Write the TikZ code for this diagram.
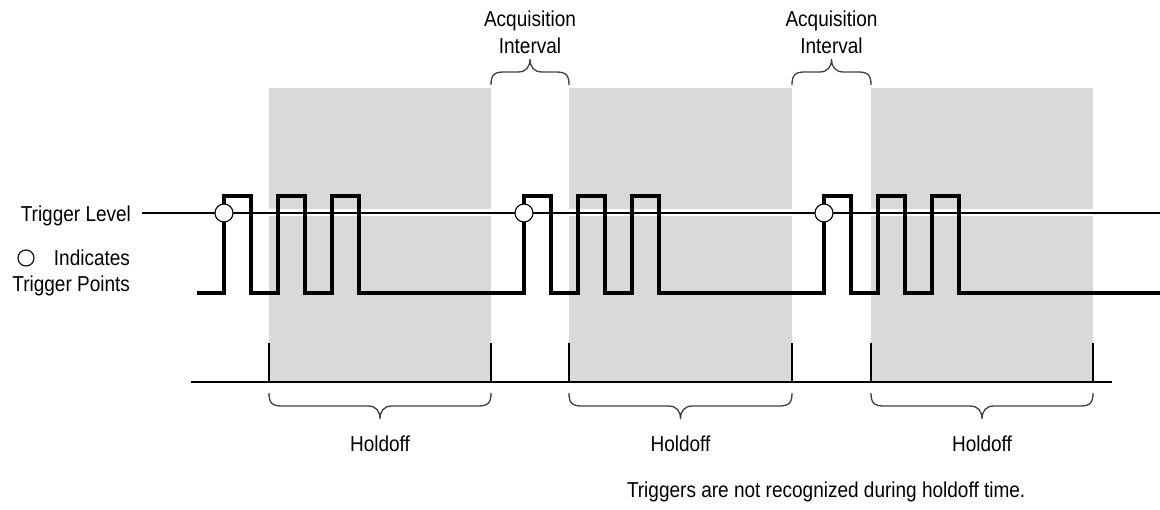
\documentclass[tikz,border=0pt]{standalone}
\usepackage{fontspec}
\setmainfont{Liberation Sans}[FakeStretch=0.88]
\definecolor{shadegray}{RGB}{217,217,217}
\tikzset{
  lbl/.style={font=\fontsize{21.6}{27}\selectfont, inner sep=0pt, outer sep=0pt},
  shadebox/.style={fill=shadegray, draw=none},
  tick/.style={line width=1.8pt, black},
  baseline/.style={line width=1.5pt, black},
  signal/.style={line width=3.3pt, black, line join=miter},
  halo/.style={line width=7pt, white},
  trig/.style={line width=1.3pt, black},
  tpoint/.style={circle, draw=black, fill=white, line width=1.1pt, minimum size=18pt, inner sep=0pt},
  bracestyle/.style={line width=1.3pt, black!75},
}
\newcommand\capbrace[4]{% x1, x2, y0, sign (1 down, -1 up)
  \pgfmathsetmacro\xmid{(#1+#2)/2}%
  \pgfmathsetmacro\ya{#3+(#4)*10}%
  \pgfmathsetmacro\yb{#3+(#4)*13}%
  \pgfmathsetmacro\yc{#3+(#4)*18}%
  \pgfmathsetmacro\yd{#3+(#4)*26}%
  \pgfmathsetmacro\xa{#1+3}%
  \pgfmathsetmacro\xb{#1+13}%
  \pgfmathsetmacro\xc{\xmid-12}%
  \pgfmathsetmacro\xd{\xmid-4}%
  \pgfmathsetmacro\xe{\xmid+4}%
  \pgfmathsetmacro\xf{\xmid+12}%
  \pgfmathsetmacro\xg{#2-13}%
  \pgfmathsetmacro\xh{#2-3}%
  \draw[bracestyle] (#1,#3) .. controls (#1,\ya) and (\xa,\yb) .. (\xb,\yb)
    -- (\xc,\yb) .. controls (\xd,\yb) and (\xmid,\yc) .. (\xmid,\yd)
    .. controls (\xmid,\yc) and (\xe,\yb) .. (\xf,\yb)
    -- (\xg,\yb) .. controls (\xh,\yb) and (#2,\ya) .. (#2,#3);
}
\begin{document}
\begin{tikzpicture}[x=1pt,y=-1pt]
\useasboundingbox (0,0) rectangle (1160,510);
% holdoff shading
\fill[shadegray] (269,88) rectangle (491,382);
\fill[shadegray] (569,88) rectangle (792,382);
\fill[shadegray] (871,88) rectangle (1093,382);
% base line and ticks
\coordinate (bl) at (191,382);
\coordinate (br) at (1112,382);
\draw[baseline] (bl) -- (br);
\foreach \x in {269,491,569,792,871,1093} {\draw[tick] (\x,343) -- (\x,382);}
% holdoff braces
\capbrace{269}{491}{393}{1}
\capbrace{569}{792}{393}{1}
\capbrace{871}{1093}{393}{1}
\node[lbl, anchor=base] (h1) at (380,452) {Holdoff};
\node[lbl, anchor=base] (h2) at (680.5,452) {Holdoff};
\node[lbl, anchor=base] (h3) at (982,452) {Holdoff};
% acquisition braces
\capbrace{491}{569}{85}{-1}
\capbrace{792}{871}{85}{-1}
\node[lbl, anchor=base] (a1) at (530,27) {Acquisition};
\node[lbl, anchor=base] (i1) at (530,54) {Interval};
\node[lbl, anchor=base] (a2) at (831.5,27) {Acquisition};
\node[lbl, anchor=base] (i2) at (831.5,54) {Interval};
% trigger level
\node[lbl, anchor=base east] (tl) at (131,221.5) {Trigger Level};
\coordinate (tlend) at (1160,213);
\draw[halo] (142,213) -- (tlend);
% signal
\draw[signal] (197,293)
  foreach \t in {224,524,824} {
    -- (\t,293) -- (\t,196) -- (\t+27,196) -- (\t+27,293)
    -- (\t+54,293) -- (\t+54,196) -- (\t+81,196) -- (\t+81,293)
    -- (\t+108,293) -- (\t+108,196) -- (\t+135,196) -- (\t+135,293)
  } -- (1160,293);
\draw[trig] (tl.east |- tlend) ++(11,0) -- (tlend);
% trigger points
\node[tpoint] (p1) at (224,213) {};
\node[tpoint] (p2) at (524,213) {};
\node[tpoint] (p3) at (824,213) {};
% legend
\node[tpoint, minimum size=16pt] (leg) at (26,258) {};
\node[lbl, anchor=base east] (ind) at (130,266) {Indicates};
\node[lbl, anchor=base east] (tp) at (130,292) {Trigger Points};
% note
\node[lbl, anchor=base west] (note) at (627,498) {Triggers are not recognized during holdoff time.};
\end{tikzpicture}
\end{document}
